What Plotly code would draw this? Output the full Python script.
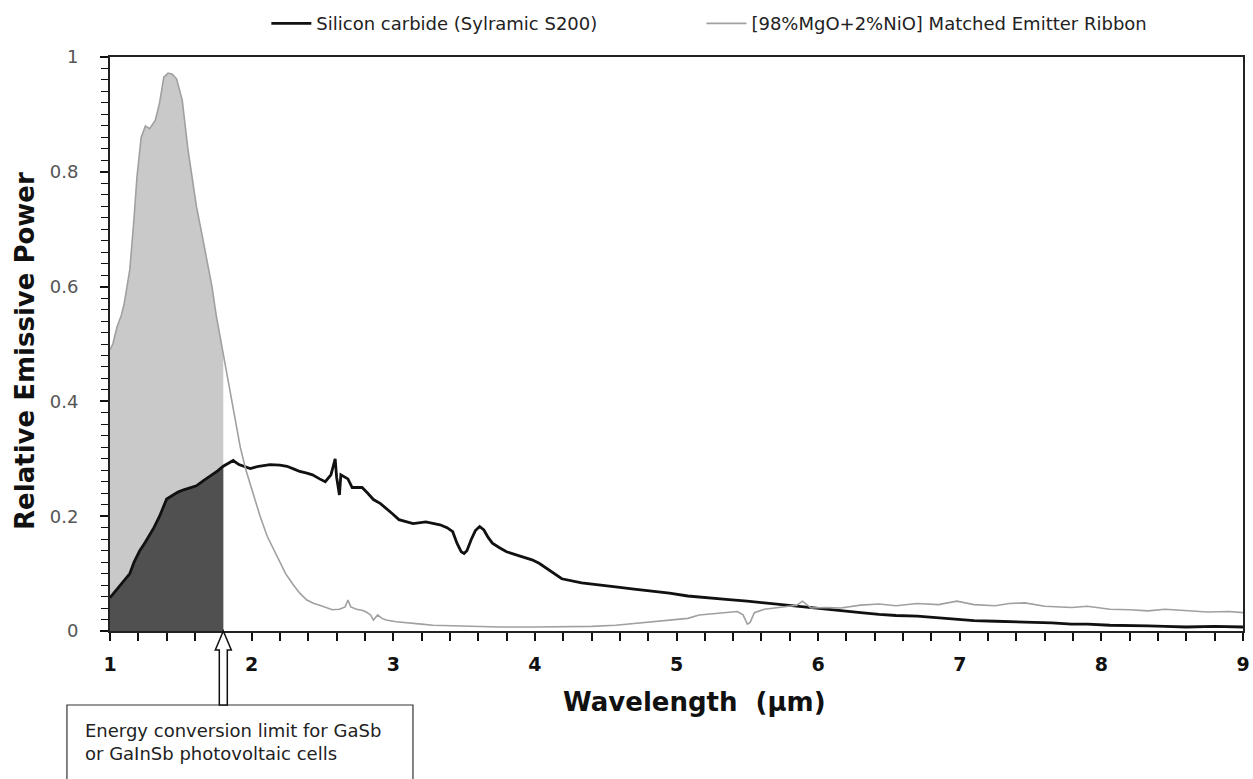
import plotly.graph_objects as go

# ---- data ----
ribbon_x = [1.00, 1.02, 1.05, 1.08, 1.10, 1.14, 1.17, 1.19, 1.22, 1.25, 1.28, 1.32, 1.35, 1.38,
            1.41, 1.44, 1.47, 1.51, 1.55, 1.58, 1.61, 1.65, 1.68, 1.72, 1.75, 1.78, 1.80, 1.84,
            1.88, 1.92, 1.96, 2.01, 2.06, 2.11, 2.18, 2.24, 2.29, 2.34, 2.39, 2.44, 2.48, 2.53,
            2.57, 2.62, 2.66, 2.68, 2.70, 2.74, 2.78, 2.81, 2.84, 2.86, 2.89, 2.92, 2.95, 3.02,
            3.09, 3.20, 3.28, 3.50, 3.75, 4.00, 4.22, 4.40, 4.57, 4.75, 4.92, 5.08, 5.16, 5.25,
            5.35, 5.43, 5.47, 5.50, 5.52, 5.55, 5.62, 5.75, 5.85, 5.89, 5.95, 6.05, 6.16, 6.30,
            6.43, 6.55, 6.70, 6.85, 6.98, 7.10, 7.25, 7.35, 7.46, 7.60, 7.79, 7.90, 8.06, 8.20,
            8.33, 8.45, 8.60, 8.75, 8.90, 9.00]
ribbon_y = [0.49, 0.50, 0.53, 0.55, 0.57, 0.63, 0.72, 0.79, 0.86, 0.88, 0.875, 0.89, 0.92, 0.965,
            0.972, 0.970, 0.962, 0.925, 0.84, 0.79, 0.74, 0.69, 0.65, 0.60, 0.55, 0.51, 0.48, 0.43,
            0.37, 0.32, 0.28, 0.24, 0.20, 0.165, 0.13, 0.10, 0.082, 0.066, 0.054, 0.048, 0.045, 0.040,
            0.037, 0.038, 0.042, 0.054, 0.042, 0.038, 0.036, 0.033, 0.028, 0.019, 0.028, 0.022, 0.019, 0.016,
            0.014, 0.012, 0.010, 0.008, 0.007, 0.007, 0.007, 0.008, 0.010, 0.014, 0.019, 0.022, 0.028, 0.030,
            0.032, 0.034, 0.028, 0.012, 0.015, 0.032, 0.038, 0.042, 0.045, 0.052, 0.040, 0.041, 0.040, 0.045,
            0.047, 0.044, 0.048, 0.046, 0.052, 0.046, 0.044, 0.048, 0.049, 0.043, 0.041, 0.043, 0.038, 0.037,
            0.035, 0.038, 0.035, 0.033, 0.034, 0.032]

sic_x = [1.00, 1.04, 1.07, 1.10, 1.14, 1.17, 1.21, 1.25, 1.31, 1.35, 1.40, 1.44, 1.48, 1.52,
         1.57, 1.61, 1.66, 1.71, 1.76, 1.80, 1.84, 1.87, 1.91, 1.95, 1.99, 2.05, 2.13, 2.20,
         2.25, 2.30, 2.34, 2.39, 2.43, 2.48, 2.52, 2.56, 2.59, 2.60, 2.62, 2.63, 2.66, 2.68,
         2.71, 2.78, 2.82, 2.86, 2.91, 2.95, 3.00, 3.04, 3.09, 3.14, 3.23, 3.33, 3.38, 3.42,
         3.45, 3.48, 3.50, 3.52, 3.55, 3.58, 3.61, 3.64, 3.67, 3.70, 3.75, 3.80, 3.89, 3.98,
         4.03, 4.08, 4.14, 4.19, 4.33, 4.45, 4.57, 4.70, 4.81, 4.95, 5.08, 5.20, 5.35, 5.50,
         5.62, 5.75, 5.89, 6.00, 6.16, 6.30, 6.43, 6.55, 6.70, 6.85, 6.98, 7.10, 7.25, 7.40,
         7.52, 7.65, 7.79, 7.90, 8.06, 8.20, 8.33, 8.45, 8.60, 8.80, 9.00]
sic_y = [0.058, 0.070, 0.078, 0.088, 0.100, 0.120, 0.140, 0.155, 0.180, 0.200, 0.230, 0.236, 0.242, 0.246,
         0.250, 0.253, 0.262, 0.270, 0.279, 0.287, 0.293, 0.297, 0.290, 0.286, 0.283, 0.287, 0.290, 0.289,
         0.287, 0.282, 0.278, 0.275, 0.272, 0.265, 0.260, 0.272, 0.300, 0.268, 0.237, 0.272, 0.268, 0.265,
         0.250, 0.250, 0.240, 0.229, 0.222, 0.214, 0.203, 0.194, 0.190, 0.187, 0.190, 0.185, 0.180, 0.173,
         0.153, 0.138, 0.135, 0.140, 0.159, 0.175, 0.182, 0.176, 0.163, 0.153, 0.145, 0.138, 0.131, 0.124,
         0.118, 0.110, 0.100, 0.091, 0.084, 0.080, 0.077, 0.073, 0.070, 0.066, 0.061, 0.058, 0.055, 0.052,
         0.049, 0.045, 0.041, 0.039, 0.035, 0.032, 0.029, 0.027, 0.026, 0.023, 0.020, 0.018, 0.017, 0.016,
         0.016, 0.014, 0.012, 0.012, 0.010, 0.010, 0.009, 0.008, 0.007, 0.008, 0.007]

cutoff = 1.8  # energy conversion limit (µm)
x_ticks = [1, 2, 3, 4, 5, 6, 7, 8, 9]
y_ticks = [0, 0.2, 0.4, 0.6, 0.8, 1]
y_tick_labels = ["0", "0.2", "0.4", "0.6", "0.8", "1"]
name_sic = "Silicon carbide (Sylramic S200)"
name_rib = "[98%MgO+2%NiO] Matched Emitter Ribbon"

rib_fx = [x for x in ribbon_x if x <= cutoff]
rib_fy = [y for x, y in zip(ribbon_x, ribbon_y) if x <= cutoff]
sic_fx = [x for x in sic_x if x <= cutoff]
sic_fy = [y for x, y in zip(sic_x, sic_y) if x <= cutoff]

fig = go.Figure()
fig.add_trace(go.Scatter(x=rib_fx, y=rib_fy, mode="lines", fill="tozeroy",
                         fillcolor="#c9c9c9", line=dict(width=0, color="#c9c9c9"),
                         showlegend=False, hoverinfo="skip"))
fig.add_trace(go.Scatter(x=sic_fx, y=sic_fy, mode="lines", fill="tozeroy",
                         fillcolor="#505050", line=dict(width=0, color="#505050"),
                         showlegend=False, hoverinfo="skip"))
fig.add_trace(go.Scatter(x=sic_x, y=sic_y, mode="lines", name=name_sic, legend="legend",
                         line=dict(color="#111111", width=2.8)))
fig.add_trace(go.Scatter(x=ribbon_x, y=ribbon_y, mode="lines", name=name_rib, legend="legend2",
                         line=dict(color="#a0a0a0", width=1.6)))

font_main = "DejaVu Sans"
legend_style = dict(orientation="h", xanchor="left", y=1.058, yanchor="middle",
                    font=dict(size=18, family=font_main, color="#222222"),
                    itemwidth=40, bgcolor="rgba(0,0,0,0)")

fig.update_layout(
    width=1253, height=779,
    margin=dict(l=110, r=10, t=57, b=148, autoexpand=False),
    paper_bgcolor="white", plot_bgcolor="white",
    font=dict(family=font_main, color="#222222"),
    legend=dict(x=0.138, **legend_style),
    legend2=dict(x=0.522, **legend_style),
    xaxis=dict(range=[1, 9], tickvals=x_ticks, ticks="outside", ticklen=8, tickwidth=1.5,
               tickcolor="#111", showline=True, linecolor="#222", linewidth=2, mirror=True,
               showgrid=False, zeroline=False, ticklabelstandoff=7,
               tickfont=dict(size=19, family=font_main, color="#111", weight="bold"),
               minor=dict(dtick=0.2, ticks="outside", ticklen=8, tickwidth=1.5, tickcolor="#111")),
    yaxis=dict(range=[0, 1], tickvals=y_ticks, ticktext=y_tick_labels, ticks="outside",
               ticklen=8, tickwidth=1.5, tickcolor="#111", showline=True, linecolor="#222",
               linewidth=2, mirror=True, showgrid=False, zeroline=False, ticklabelstandoff=18,
               tickfont=dict(size=18, family=font_main, color="#555555"),
               minor=dict(dtick=0.02, ticks="outside", ticklen=7, tickwidth=1.2, tickcolor="#111")),
)

# axis titles
fig.add_annotation(xref="paper", yref="paper", x=0.516, y=-0.124, xanchor="center", yanchor="middle",
                   text="<b>Wavelength  (\u03bcm)</b>", showarrow=False,
                   font=dict(size=26, family=font_main, color="#111"))
fig.add_annotation(xref="paper", yref="paper", x=-0.075, y=0.488, xanchor="center", yanchor="middle",
                   text="<b>Relative Emissive Power</b>", textangle=-90, showarrow=False,
                   font=dict(size=26, family=font_main, color="#111"))

# explanatory box and hollow arrow
fig.add_shape(type="rect", xref="paper", yref="paper", x0=-0.038, x1=0.2674, y0=-0.1289, y1=-0.32,
              line=dict(color="#333", width=1.2), fillcolor="white")
fig.add_shape(type="path", xref="paper", yref="paper", xsizemode="pixel", ysizemode="pixel",
              xanchor=(cutoff - 1) / 8, yanchor=0,
              path="M0,0 L-8,-19 L-4,-19 L-4,-74 L4,-74 L4,-19 L8,-19 Z",
              line=dict(color="#111", width=1.5), fillcolor="white")
fig.add_annotation(xref="paper", yref="paper", x=-0.0238, y=-0.194, xanchor="left", yanchor="middle",
                   align="left", showarrow=False,
                   text="Energy conversion limit for GaSb<br>or GaInSb photovoltaic cells",
                   font=dict(size=18, family=font_main, color="#222"))

# remove the browser's default 8px page margin so the 1253x779 figure fills the window exactly
fig.write_html("out.html", config={"displayModeBar": False},
               post_script="document.body.style.margin='0';document.body.style.overflow='hidden';")
